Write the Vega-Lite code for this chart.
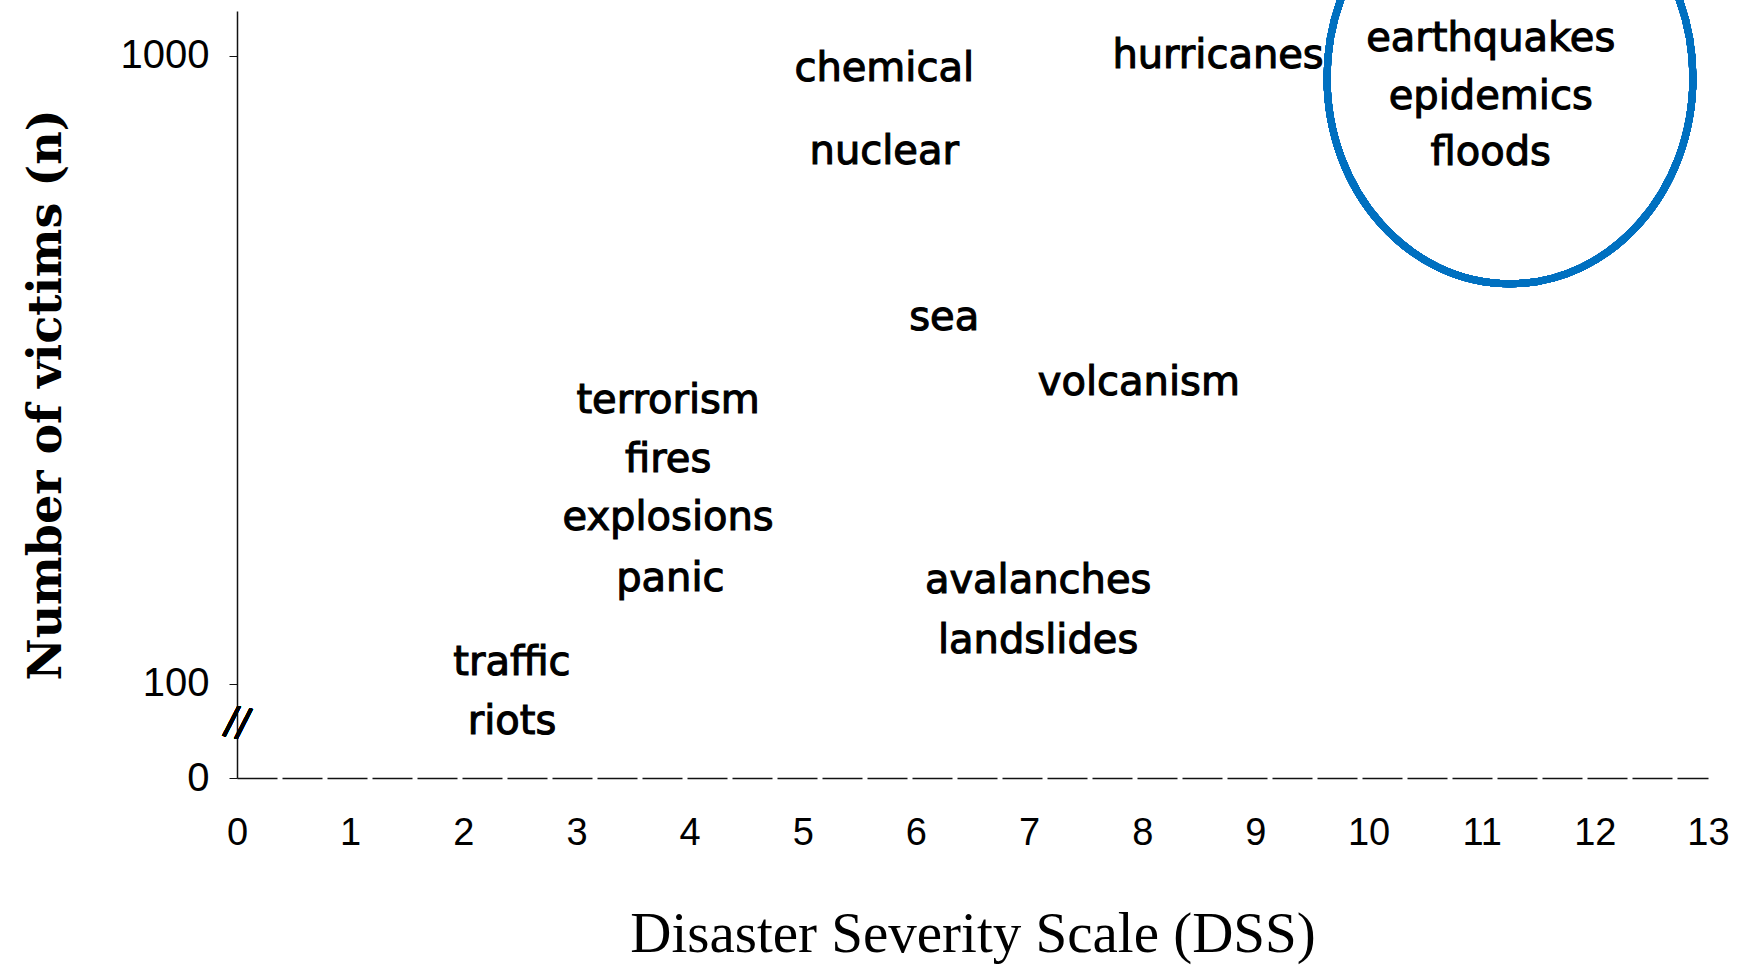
{
  "$schema": "https://vega.github.io/schema/vega-lite/v6.json",
  "autosize": {"type": "none"},
  "width": 1471,
  "height": 767,
  "padding": {"left": 237, "top": 11, "right": 34, "bottom": 187},
  "background": "white",
  "config": {"view": {"stroke": null}},
  "data": {
    "values": [
      {"label": "chemical", "dss": 5.72, "victims": 953},
      {"label": "nuclear", "dss": 5.72, "victims": 703},
      {"label": "hurricanes", "dss": 8.67, "victims": 1000},
      {"label": "earthquakes", "dss": 11.08, "victims": 1064},
      {"label": "epidemics", "dss": 11.08, "victims": 861},
      {"label": "floods", "dss": 11.08, "victims": 701},
      {"label": "sea", "dss": 6.25, "victims": 383},
      {"label": "volcanism", "dss": 7.97, "victims": 301},
      {"label": "terrorism", "dss": 3.81, "victims": 282},
      {"label": "fires", "dss": 3.81, "victims": 227},
      {"label": "explosions", "dss": 3.81, "victims": 184},
      {"label": "panic", "dss": 3.83, "victims": 147},
      {"label": "avalanches", "dss": 7.08, "victims": 146},
      {"label": "landslides", "dss": 7.08, "victims": 117},
      {"label": "traffic", "dss": 2.43, "victims": 108},
      {"label": "riots", "dss": 2.43, "victims": 87}
    ]
  },
  "encoding": {
    "x": {
      "field": "dss", "type": "quantitative",
      "scale": {"domain": [0, 13], "nice": false, "zero": false},
      "axis": {
        "title": "Disaster Severity Scale (DSS)",
        "values": [0,1,2,3,4,5,6,7,8,9,10,11,12,13],
        "grid": false,
        "domainColor": "#111", "domainWidth": 1.5, "domainDash": [40, 5],
        "ticks": false,
        "labelFont": "Liberation Sans", "labelFontSize": 38, "labelColor": "black",
        "labelPadding": 36, "labelFlush": false,
        "titleFont": "Liberation Serif", "titleFontSize": 57, "titleFontWeight": "normal",
        "titleColor": "black", "titlePadding": 54
      }
    },
    "y": {
      "field": "victims", "type": "quantitative",
      "scale": {"type": "log", "domain": [70.8, 1179], "nice": false},
      "axis": {
        "title": "Number of victims (n)",
        "values": [70.8, 100, 1000],
        "labelExpr": "datum.value < 90 ? '0' : (datum.value > 500 ? '1000' : '100')",
        "grid": false,
        "domainColor": "#111", "domainWidth": 1.5,
        "tickColor": "#111", "tickSize": 8, "tickWidth": 1,
        "labelFont": "Liberation Sans", "labelFontSize": 40, "labelColor": "black",
        "labelPadding": 20,
        "titleFont": "DejaVu Serif", "titleFontSize": 46, "titleFontWeight": "bold",
        "titleColor": "black", "titlePadding": 50
      }
    }
  },
  "layer": [
    {
      "mark": {"type": "text", "font": "DejaVu Sans", "fontSize": 40, "color": "black",
               "stroke": "black", "strokeWidth": 1.1, "align": "center", "baseline": "middle"},
      "encoding": {"text": {"field": "label"}}
    },
    {
      "mark": {"type": "point", "filled": false, "stroke": "#0070C0", "strokeWidth": 7, "opacity": 1,
               "shape": "M -0.888 0 A 0.888 1 0 1 1 0.888 0 A 0.888 1 0 1 1 -0.888 0 Z",
               "size": 169744, "clip": false},
      "encoding": {"x": {"datum": 11.25}, "y": {"datum": 923}}
    },
    {
      "mark": {"type": "text", "text": "//", "font": "Liberation Sans", "fontSize": 44, "color": "black",
               "align": "center", "baseline": "middle", "angle": 12},
      "encoding": {"x": {"datum": 0}, "y": {"datum": 86}}
    }
  ]
}
